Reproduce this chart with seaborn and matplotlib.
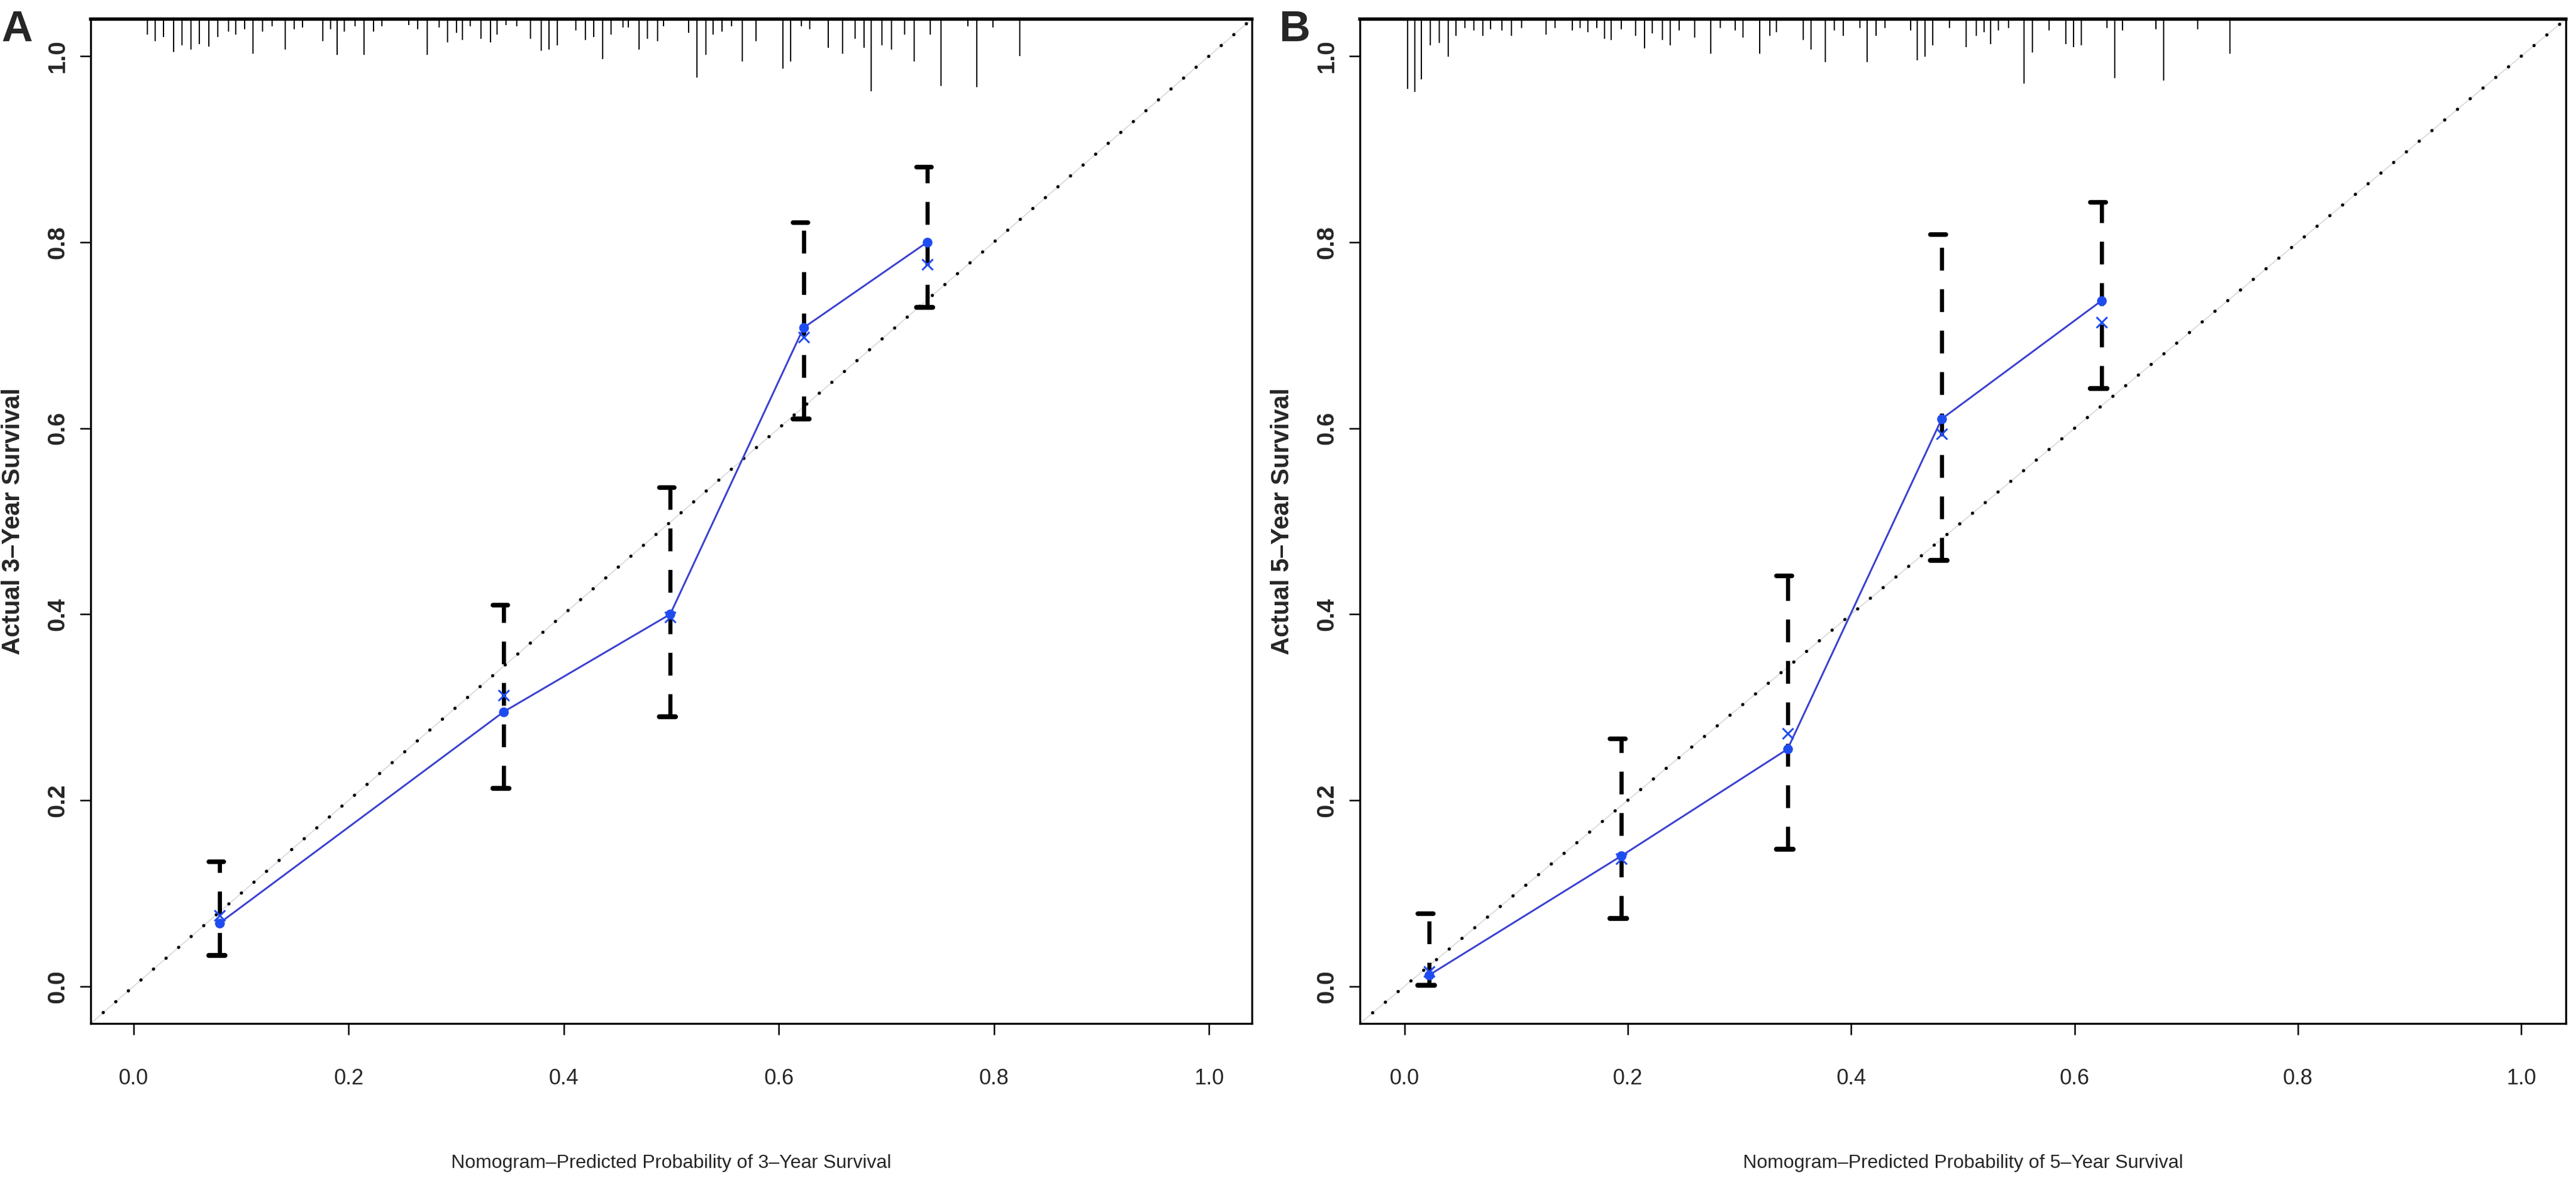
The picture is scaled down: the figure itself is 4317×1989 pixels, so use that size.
import numpy as np
import matplotlib
matplotlib.use('Agg')
import matplotlib.pyplot as plt
import matplotlib.transforms as mtransforms
from matplotlib import font_manager
import seaborn as sns

# ---- data ----
# panel A: 3-year survival
pred_3y = [0.080, 0.344, 0.499, 0.623, 0.738]
obs_3y = [0.068, 0.295, 0.400, 0.708, 0.800]
corr_3y = [0.076, 0.313, 0.397, 0.698, 0.776]
lo_3y = [0.033, 0.213, 0.290, 0.610, 0.730]
hi_3y = [0.134, 0.410, 0.536, 0.821, 0.881]

rug_x_3y = [0.013, 0.020, 0.028, 0.037, 0.045, 0.053, 0.061, 0.070, 0.078, 0.088,
            0.095, 0.103, 0.111, 0.120, 0.129, 0.141, 0.149, 0.157, 0.176, 0.183,
            0.189, 0.196, 0.206, 0.214, 0.223, 0.231, 0.256, 0.264, 0.273, 0.284,
            0.292, 0.300, 0.306, 0.313, 0.323, 0.332, 0.338, 0.346, 0.356, 0.369,
            0.379, 0.386, 0.394, 0.411, 0.420, 0.428, 0.436, 0.444, 0.455, 0.460,
            0.470, 0.478, 0.487, 0.493, 0.516, 0.524, 0.532, 0.539, 0.547, 0.556,
            0.566, 0.579, 0.604, 0.611, 0.621, 0.629, 0.646, 0.659, 0.671, 0.679,
            0.686, 0.696, 0.705, 0.717, 0.726, 0.741, 0.751, 0.776, 0.784, 0.799,
            0.824]
rug_len_3y = [57, 82, 67, 122, 97, 112, 92, 102, 67, 47,
              57, 37, 127, 47, 27, 112, 37, 32, 82, 37,
              132, 47, 27, 132, 47, 27, 22, 37, 132, 32,
              87, 52, 77, 27, 72, 87, 57, 22, 27, 72,
              117, 112, 97, 42, 77, 67, 147, 57, 32, 32,
              112, 72, 82, 27, 52, 217, 132, 57, 47, 27,
              157, 82, 182, 157, 27, 37, 107, 127, 72, 107,
              267, 97, 112, 57, 157, 57, 247, 27, 252, 32,
              137]

# panel B: 5-year survival
pred_5y = [0.022, 0.194, 0.343, 0.481, 0.624]
obs_5y = [0.012, 0.140, 0.255, 0.610, 0.737]
corr_5y = [0.016, 0.137, 0.272, 0.594, 0.714]
lo_5y = [0.001, 0.073, 0.147, 0.458, 0.643]
hi_5y = [0.078, 0.266, 0.441, 0.808, 0.843]

rug_x_5y = [0.003, 0.009, 0.015, 0.023, 0.031, 0.039, 0.046, 0.054, 0.062, 0.070,
            0.077, 0.087, 0.096, 0.105, 0.127, 0.135, 0.150, 0.157, 0.164, 0.172,
            0.179, 0.185, 0.194, 0.207, 0.215, 0.222, 0.231, 0.238, 0.246, 0.260,
            0.274, 0.283, 0.296, 0.303, 0.318, 0.327, 0.333, 0.357, 0.364, 0.377,
            0.385, 0.393, 0.408, 0.414, 0.422, 0.430, 0.453, 0.459, 0.466, 0.473,
            0.488, 0.503, 0.512, 0.519, 0.525, 0.532, 0.541, 0.555, 0.562, 0.577,
            0.592, 0.599, 0.606, 0.629, 0.636, 0.643, 0.673, 0.680, 0.710, 0.739]
rug_len_5y = [258, 268, 223, 98, 88, 138, 63, 33, 43, 63,
              38, 43, 63, 33, 58, 33, 43, 33, 48, 33,
              73, 78, 38, 63, 108, 53, 78, 98, 43, 68,
              128, 33, 43, 68, 128, 63, 48, 78, 113, 158,
              43, 63, 33, 158, 63, 33, 43, 153, 138, 98,
              33, 103, 63, 48, 93, 43, 33, 238, 123, 43,
              93, 103, 98, 33, 218, 43, 38, 228, 38, 128]

tick_vals = [0.0, 0.2, 0.4, 0.6, 0.8, 1.0]
tick_labels = ['0.0', '0.2', '0.4', '0.6', '0.8', '1.0']

line_blue = '#3a40d0'
dot_blue = '#1f4cf0'

sns.set_style('ticks')
names = {f.name for f in font_manager.fontManager.ttflist}
narrow = 'Liberation Sans Narrow' in names
plt.rcParams['font.family'] = ['Liberation Sans', 'DejaVu Sans']
narrow_family = ['Liberation Sans Narrow', 'Liberation Sans'] if narrow else ['Liberation Sans']
xtick_fs = 31 if narrow else 26
xlab_fs = 28 if narrow else 23


def draw_panel(ax, pred, obs, corr, lo, hi, rug_x, rug_len, xlabel, ylabel):
    ax.set_xlim(-0.04, 1.04)
    ax.set_ylim(-0.04, 1.04)

    # ideal line, dotted, with the faint grey trace seen behind the dots
    ax.plot([-0.04, 1.04], [-0.04, 1.04], color='#dcdcdc', lw=1.4, zorder=1)
    ax.plot([-0.04, 1.04], [-0.04, 1.04], color='black', lw=4.0,
            linestyle=(0, (0.01, 5.0)), dash_capstyle='round', zorder=2)

    # rug of predicted values hanging from the top
    trans = mtransforms.blended_transform_factory(ax.transData, ax.transAxes)
    frac = np.array(rug_len) * 0.00027
    ax.vlines(rug_x, 1 - frac, 1, colors='black', lw=1.5, transform=trans, zorder=3)

    # error bars: dashed verticals with short caps
    pred = np.array(pred)
    ax.vlines(pred, lo, hi, colors='black', lw=5.0, linestyles=[(0, (5.5, 4.5))], zorder=3)
    caps_hi = ax.hlines(hi, pred - 0.010, pred + 0.004, colors='black', lw=5.5, zorder=3)
    caps_lo = ax.hlines(lo, pred - 0.010, pred + 0.005, colors='black', lw=6.0, zorder=3)
    caps_hi.set_capstyle('round')
    caps_lo.set_capstyle('round')

    # observed (connected) and bias-corrected (x) estimates
    sns.lineplot(x=pred, y=obs, ax=ax, color=line_blue, lw=2.2, marker='o',
                 markersize=11, markerfacecolor=dot_blue, markeredgecolor=dot_blue,
                 zorder=4)
    sns.scatterplot(x=pred, y=corr, ax=ax, marker='x', s=170, color=dot_blue,
                    linewidth=2.2, zorder=5)

    ax.set_xticks(tick_vals)
    ax.set_xticklabels(tick_labels, family=narrow_family, fontsize=xtick_fs)
    ax.set_yticks(tick_vals)
    ax.set_yticklabels(tick_labels, fontsize=29, fontweight='bold',
                       rotation=90, va='center')
    ax.tick_params(axis='x', direction='out', length=14, width=1.8, pad=40, color='black')
    ax.tick_params(axis='y', direction='out', length=13, width=1.8, pad=13, color='black')
    for sp in ax.spines.values():
        sp.set_linewidth(2.4)
        sp.set_color('black')
    ax.spines['top'].set_linewidth(4.0)

    ax.set_xlabel(xlabel, family=narrow_family, fontsize=xlab_fs)
    ax.set_ylabel(ylabel, fontsize=30, fontweight='bold')
    ax.xaxis.set_label_coords(0.5, -0.13)


fig = plt.figure(figsize=(43.17, 19.89), dpi=100)
ax_a = fig.add_axes([0.0352, 0.1378, 0.4508, 0.8462])
ax_b = fig.add_axes([0.5279, 0.1378, 0.4682, 0.8462])

draw_panel(ax_a, pred_3y, obs_3y, corr_3y, lo_3y, hi_3y, rug_x_3y, rug_len_3y,
           'Nomogram\u2013Predicted Probability of 3\u2013Year Survival',
           'Actual 3\u2013Year Survival')
draw_panel(ax_b, pred_5y, obs_5y, corr_5y, lo_5y, hi_5y, rug_x_5y, rug_len_5y,
           'Nomogram\u2013Predicted Probability of 5\u2013Year Survival',
           'Actual 5\u2013Year Survival')
ax_a.yaxis.set_label_coords(-0.0565, 0.5)
ax_b.yaxis.set_label_coords(-0.0545, 0.5)

fig.text(0.0005, 0.992, 'A', fontsize=52, fontweight='bold', ha='left', va='top')
fig.text(0.4965, 0.992, 'B', fontsize=52, fontweight='bold', ha='left', va='top')

fig.savefig('out.png', dpi=100, facecolor='white')
